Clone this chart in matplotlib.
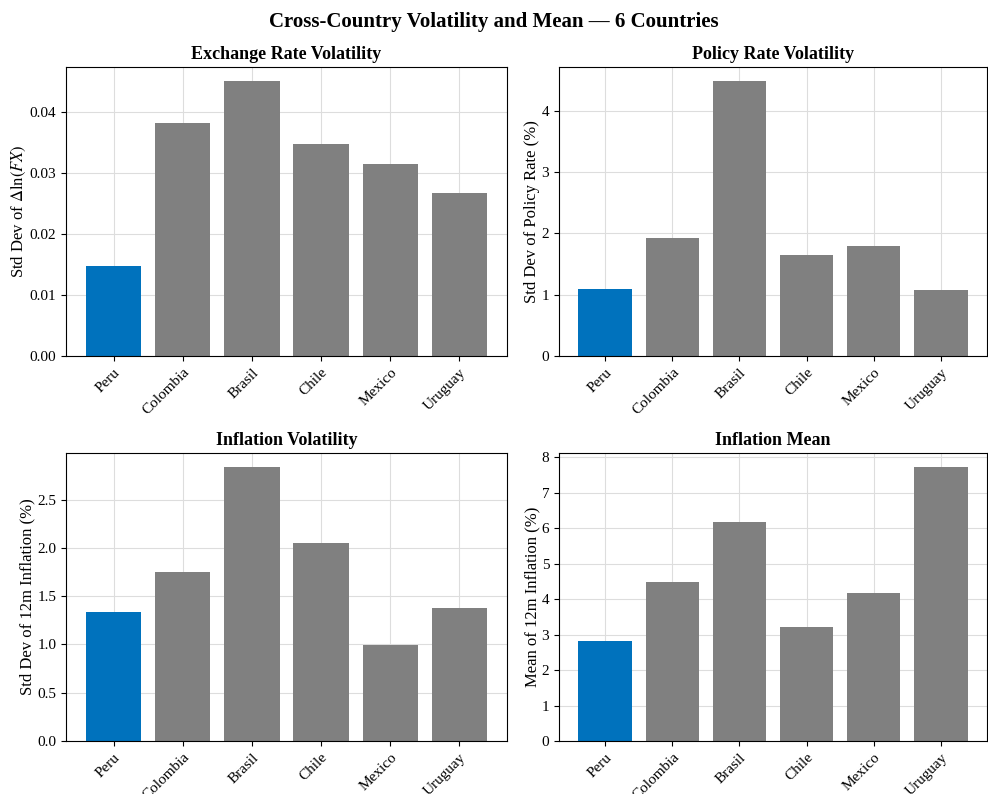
import numpy as np
import matplotlib
matplotlib.use("Agg")
import matplotlib.pyplot as plt

plt.rcParams['font.family'] = ['Liberation Serif', 'DejaVu Serif']
plt.rcParams['mathtext.fontset'] = 'stix'
plt.rcParams['font.size'] = 11

countries = ["Peru", "Colombia", "Brasil", "Chile", "Mexico", "Uruguay"]

fx_vol = [0.0148, 0.0382, 0.0451, 0.0347, 0.0314, 0.0267]
policy_vol = [1.10, 1.92, 4.49, 1.64, 1.79, 1.08]
infl_vol = [1.34, 1.75, 2.84, 2.05, 0.99, 1.38]
infl_mean = [2.83, 4.48, 6.18, 3.22, 4.17, 7.73]

panels = [
    (fx_vol, "Exchange Rate Volatility", r"Std Dev of $\Delta \ln(FX)$"),
    (policy_vol, "Policy Rate Volatility", "Std Dev of Policy Rate (%)"),
    (infl_vol, "Inflation Volatility", "Std Dev of 12m Inflation (%)"),
    (infl_mean, "Inflation Mean", "Mean of 12m Inflation (%)"),
]

# posiciones de los ejes en pixeles: (x0, y0_top, x1, y1_bottom)
W, H = 988, 794
cajas = [(66, 67, 507, 356), (559, 67, 987, 356),
         (66, 453, 507, 741), (559, 453, 987, 741)]

colores = ["#0072BD"] + ["#808080"] * (len(countries) - 1)

fig, axes = plt.subplots(2, 2, figsize=(W / 100, H / 100), dpi=100)
x = np.arange(len(countries))

for ax, (valores, titulo, ylabel), (x0, yt, x1, yb) in zip(axes.flat, panels, cajas):
    ax.set_position([x0 / W, 1 - yb / H, (x1 - x0) / W, (yb - yt) / H])
    ax.bar(x, valores, color=colores, width=0.8, zorder=2)
    ax.set_title(titulo, fontweight="bold", fontsize=13)
    ax.set_ylabel(ylabel, fontsize=12, labelpad=1)
    ax.set_xticks(x)
    ax.set_xticklabels(countries, rotation=45, ha="right", rotation_mode="anchor")
    ax.grid(True, color="#dddddd", linewidth=0.8, zorder=0)
    ax.set_axisbelow(True)

fig.suptitle("Cross-Country Volatility and Mean \u2014 6 Countries",
             fontweight="bold", fontsize=15, y=0.985)
fig.savefig("out.png", dpi=100)
